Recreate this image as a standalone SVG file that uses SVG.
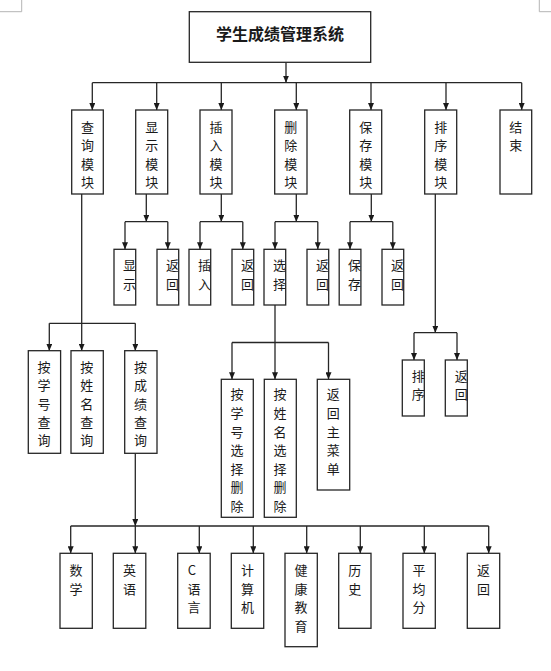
<svg xmlns="http://www.w3.org/2000/svg" width="551" height="671" viewBox="0 0 551 671">
<style>
  rect { fill: #fff; stroke: #262626; stroke-width: 1.3; }
  .c line { stroke: #262626; stroke-width: 1.3; fill: none; }
  .m line { stroke: #b4b4b4; stroke-width: 1; }
  text { font-family: "Noto Sans CJK SC", "Noto Sans", sans-serif; font-size: 13px; fill: #1a1a1a; text-anchor: middle; dominant-baseline: central; }
  .title { font-size: 16px; font-weight: bold; }
</style>
<defs>
  <marker id="ah" markerUnits="userSpaceOnUse" viewBox="0 0 7 6" markerWidth="7" markerHeight="6" refX="7" refY="3" orient="auto">
    <path d="M0,0 L7,3 L0,6 Z" fill="#1a1a1a"/>
  </marker>
</defs>
<rect x="0" y="0" width="551" height="671" style="fill:#fff;stroke:none"/>
<g class="m" id="corner-marks">
  <line x1="21.7" y1="0" x2="21.7" y2="11.7"/>
  <line x1="0" y1="11.7" x2="21.7" y2="11.7"/>
  <line x1="539.3" y1="0" x2="539.3" y2="11.7"/>
  <line x1="539.3" y1="11.7" x2="551" y2="11.7"/>
</g>
<g class="c" id="connectors">
  <line x1="286" y1="62.3" x2="286" y2="82.7" marker-end="url(#ah)"/>
  <line x1="92.3" y1="82.7" x2="521.7" y2="82.7"/>
  <line x1="92.3" y1="82.7" x2="92.3" y2="110" marker-end="url(#ah)"/>
  <line x1="156.7" y1="82.7" x2="156.7" y2="110" marker-end="url(#ah)"/>
  <line x1="221.3" y1="82.7" x2="221.3" y2="110" marker-end="url(#ah)"/>
  <line x1="296.3" y1="82.7" x2="296.3" y2="110" marker-end="url(#ah)"/>
  <line x1="371" y1="82.7" x2="371" y2="110" marker-end="url(#ah)"/>
  <line x1="446" y1="82.7" x2="446" y2="110" marker-end="url(#ah)"/>
  <line x1="521.7" y1="82.7" x2="521.7" y2="110" marker-end="url(#ah)"/>

  <line x1="81.7" y1="194" x2="81.7" y2="350.7" marker-end="url(#ah)"/>
  <line x1="49.3" y1="323.3" x2="135.3" y2="323.3"/>
  <line x1="49.3" y1="323.3" x2="49.3" y2="350.7" marker-end="url(#ah)"/>
  <line x1="135.3" y1="323.3" x2="135.3" y2="350.7" marker-end="url(#ah)"/>

  <line x1="146.3" y1="194" x2="146.3" y2="221.7" marker-end="url(#ah)"/>
  <line x1="125" y1="221.7" x2="167.8" y2="221.7"/>
  <line x1="125" y1="221.7" x2="125" y2="249.3" marker-end="url(#ah)"/>
  <line x1="167.8" y1="221.7" x2="167.8" y2="249.3" marker-end="url(#ah)"/>

  <line x1="221.3" y1="194" x2="221.3" y2="221.7" marker-end="url(#ah)"/>
  <line x1="200" y1="221.7" x2="242.8" y2="221.7"/>
  <line x1="200" y1="221.7" x2="200" y2="249.3" marker-end="url(#ah)"/>
  <line x1="242.8" y1="221.7" x2="242.8" y2="249.3" marker-end="url(#ah)"/>

  <line x1="296.3" y1="194" x2="296.3" y2="221.7" marker-end="url(#ah)"/>
  <line x1="275" y1="221.7" x2="317.8" y2="221.7"/>
  <line x1="275" y1="221.7" x2="275" y2="249.3" marker-end="url(#ah)"/>
  <line x1="317.8" y1="221.7" x2="317.8" y2="249.3" marker-end="url(#ah)"/>

  <line x1="371.3" y1="194" x2="371.3" y2="221.7" marker-end="url(#ah)"/>
  <line x1="350" y1="221.7" x2="392.8" y2="221.7"/>
  <line x1="350" y1="221.7" x2="350" y2="249.3" marker-end="url(#ah)"/>
  <line x1="392.8" y1="221.7" x2="392.8" y2="249.3" marker-end="url(#ah)"/>

  <line x1="275" y1="305" x2="275" y2="379.3" marker-end="url(#ah)"/>
  <line x1="232" y1="342.5" x2="328.5" y2="342.5"/>
  <line x1="232" y1="342.5" x2="232" y2="379.3" marker-end="url(#ah)"/>
  <line x1="328.5" y1="342.5" x2="328.5" y2="379.3" marker-end="url(#ah)"/>

  <line x1="435.3" y1="194" x2="435.3" y2="332.7" marker-end="url(#ah)"/>
  <line x1="414" y1="332.7" x2="457" y2="332.7"/>
  <line x1="414" y1="332.7" x2="414" y2="360" marker-end="url(#ah)"/>
  <line x1="457" y1="332.7" x2="457" y2="360" marker-end="url(#ah)"/>

  <line x1="135.3" y1="453.3" x2="135.3" y2="526" marker-end="url(#ah)"/>
  <line x1="70.7" y1="526" x2="488.7" y2="526"/>
  <line x1="70.7" y1="526" x2="70.7" y2="553.3" marker-end="url(#ah)"/>
  <line x1="135.3" y1="526" x2="135.3" y2="553.3" marker-end="url(#ah)"/>
  <line x1="199.3" y1="526" x2="199.3" y2="553.3" marker-end="url(#ah)"/>
  <line x1="253.3" y1="526" x2="253.3" y2="553.3" marker-end="url(#ah)"/>
  <line x1="306.7" y1="526" x2="306.7" y2="553.3" marker-end="url(#ah)"/>
  <line x1="360.3" y1="526" x2="360.3" y2="553.3" marker-end="url(#ah)"/>
  <line x1="424.3" y1="526" x2="424.3" y2="553.3" marker-end="url(#ah)"/>
  <line x1="488.7" y1="526" x2="488.7" y2="553.3" marker-end="url(#ah)"/>
</g>

<g id="title"><rect x="189.3" y="11.7" width="181.4" height="50.6"/><text class="title" x="280" y="33.3">学生成绩管理系统</text></g>

<g id="mod-query"><rect x="71.7" y="110" width="31.6" height="84"/><text><tspan x="87.5" y="126">查</tspan><tspan x="87.5" y="144.4">询</tspan><tspan x="87.5" y="162.8">模</tspan><tspan x="87.5" y="181.2">块</tspan></text></g>
<g id="mod-show"><rect x="135.7" y="110" width="32" height="84"/><text><tspan x="151.7" y="126">显</tspan><tspan x="151.7" y="144.4">示</tspan><tspan x="151.7" y="162.8">模</tspan><tspan x="151.7" y="181.2">块</tspan></text></g>
<g id="mod-insert"><rect x="200" y="110" width="32" height="84"/><text><tspan x="216" y="126">插</tspan><tspan x="216" y="144.4">入</tspan><tspan x="216" y="162.8">模</tspan><tspan x="216" y="181.2">块</tspan></text></g>
<g id="mod-delete"><rect x="274.7" y="110" width="32.3" height="84"/><text><tspan x="290.8" y="126">删</tspan><tspan x="290.8" y="144.4">除</tspan><tspan x="290.8" y="162.8">模</tspan><tspan x="290.8" y="181.2">块</tspan></text></g>
<g id="mod-save"><rect x="349.7" y="110" width="32" height="84"/><text><tspan x="365.7" y="126">保</tspan><tspan x="365.7" y="144.4">存</tspan><tspan x="365.7" y="162.8">模</tspan><tspan x="365.7" y="181.2">块</tspan></text></g>
<g id="mod-sort"><rect x="424.7" y="110" width="32" height="84"/><text><tspan x="440.7" y="126">排</tspan><tspan x="440.7" y="144.4">序</tspan><tspan x="440.7" y="162.8">模</tspan><tspan x="440.7" y="181.2">块</tspan></text></g>
<g id="mod-end"><rect x="500" y="110" width="31.7" height="84"/><text><tspan x="515.8" y="126">结</tspan><tspan x="515.8" y="144.4">束</tspan></text></g>

<g id="show-display"><text><tspan x="129.4" y="264">显</tspan><tspan x="129.4" y="282.7">示</tspan></text><rect x="114" y="249.3" width="21.7" height="55.7" style="fill:none"/></g>
<g id="show-back"><text><tspan x="172.4" y="264">返</tspan><tspan x="172.4" y="282.7">回</tspan></text><rect x="157" y="249.3" width="21.7" height="55.7" style="fill:none"/></g>
<g id="insert-insert"><text><tspan x="204.4" y="264">插</tspan><tspan x="204.4" y="282.7">入</tspan></text><rect x="189" y="249.3" width="21.7" height="55.7" style="fill:none"/></g>
<g id="insert-back"><text><tspan x="247.4" y="264">返</tspan><tspan x="247.4" y="282.7">回</tspan></text><rect x="232" y="249.3" width="21.7" height="55.7" style="fill:none"/></g>
<g id="delete-select"><text><tspan x="279.4" y="264">选</tspan><tspan x="279.4" y="282.7">择</tspan></text><rect x="264" y="249.3" width="21.7" height="55.7" style="fill:none"/></g>
<g id="delete-back"><text><tspan x="322.4" y="264">返</tspan><tspan x="322.4" y="282.7">回</tspan></text><rect x="307" y="249.3" width="21.7" height="55.7" style="fill:none"/></g>
<g id="save-save"><text><tspan x="354.6" y="264">保</tspan><tspan x="354.6" y="282.7">存</tspan></text><rect x="339.2" y="249.3" width="21.7" height="55.7" style="fill:none"/></g>
<g id="save-back"><text><tspan x="397.4" y="264">返</tspan><tspan x="397.4" y="282.7">回</tspan></text><rect x="382" y="249.3" width="21.7" height="55.7" style="fill:none"/></g>

<g id="query-id"><rect x="28.3" y="350.7" width="32.3" height="102.6"/><text><tspan x="44" y="366">按</tspan><tspan x="44" y="384.4">学</tspan><tspan x="44" y="402.8">号</tspan><tspan x="44" y="421.1">查</tspan><tspan x="44" y="439.4">询</tspan></text></g>
<g id="query-name"><rect x="71" y="350.7" width="32.3" height="102.6"/><text><tspan x="86.8" y="366">按</tspan><tspan x="86.8" y="384.4">姓</tspan><tspan x="86.8" y="402.8">名</tspan><tspan x="86.8" y="421.1">查</tspan><tspan x="86.8" y="439.4">询</tspan></text></g>
<g id="query-score"><rect x="124.7" y="350.7" width="32.3" height="102.6"/><text><tspan x="140.4" y="366">按</tspan><tspan x="140.4" y="384.4">成</tspan><tspan x="140.4" y="402.8">绩</tspan><tspan x="140.4" y="421.1">查</tspan><tspan x="140.4" y="439.4">询</tspan></text></g>

<g id="del-by-id"><rect x="221.3" y="379.3" width="32" height="138"/><text><tspan x="237" y="393.3">按</tspan><tspan x="237" y="411.9">学</tspan><tspan x="237" y="430.5">号</tspan><tspan x="237" y="449.1">选</tspan><tspan x="237" y="467.7">择</tspan><tspan x="237" y="486.3">删</tspan><tspan x="237" y="504.9">除</tspan></text></g>
<g id="del-by-name"><rect x="264.3" y="379.3" width="32" height="138"/><text><tspan x="280.1" y="393.3">按</tspan><tspan x="280.1" y="411.9">姓</tspan><tspan x="280.1" y="430.5">名</tspan><tspan x="280.1" y="449.1">选</tspan><tspan x="280.1" y="467.7">择</tspan><tspan x="280.1" y="486.3">删</tspan><tspan x="280.1" y="504.9">除</tspan></text></g>
<g id="del-menu"><rect x="317.3" y="379.3" width="32.4" height="110.7"/><text><tspan x="333.3" y="393.3">返</tspan><tspan x="333.3" y="411.9">回</tspan><tspan x="333.3" y="430.5">主</tspan><tspan x="333.3" y="449.1">菜</tspan><tspan x="333.3" y="467.7">单</tspan></text></g>

<g id="sort-sort"><text><tspan x="418.3" y="375">排</tspan><tspan x="418.3" y="393.3">序</tspan></text><rect x="402.3" y="360" width="22" height="56" style="fill:none"/></g>
<g id="sort-back"><text><tspan x="461.3" y="375">返</tspan><tspan x="461.3" y="393.3">回</tspan></text><rect x="445.3" y="360" width="22" height="56" style="fill:none"/></g>

<g id="sub-math"><rect x="60" y="553.3" width="32.3" height="75"/><text><tspan x="76.1" y="569">数</tspan><tspan x="76.1" y="587.5">学</tspan></text></g>
<g id="sub-english"><rect x="113.3" y="553.3" width="32.5" height="75"/><text><tspan x="129.5" y="569">英</tspan><tspan x="129.5" y="587.5">语</tspan></text></g>
<g id="sub-c"><rect x="177.7" y="553.3" width="32.5" height="75"/><text><tspan x="192" y="569">C</tspan><tspan x="193.9" y="587.5">语</tspan><tspan x="193.9" y="606">言</tspan></text></g>
<g id="sub-computer"><rect x="231.3" y="553.3" width="32.4" height="75"/><text><tspan x="247.5" y="569">计</tspan><tspan x="247.5" y="587.5">算</tspan><tspan x="247.5" y="606">机</tspan></text></g>
<g id="sub-health"><rect x="285" y="553.3" width="32.3" height="93.4"/><text><tspan x="301.1" y="569">健</tspan><tspan x="301.1" y="587.5">康</tspan><tspan x="301.1" y="606">教</tspan><tspan x="301.1" y="624.5">育</tspan></text></g>
<g id="sub-history"><rect x="338.7" y="553.3" width="32.3" height="75"/><text><tspan x="354.8" y="569">历</tspan><tspan x="354.8" y="587.5">史</tspan></text></g>
<g id="sub-average"><rect x="403" y="553.3" width="32.3" height="75"/><text><tspan x="419.1" y="569">平</tspan><tspan x="419.1" y="587.5">均</tspan><tspan x="419.1" y="606">分</tspan></text></g>
<g id="sub-back"><rect x="467.3" y="553.3" width="32.4" height="75"/><text><tspan x="483.5" y="569">返</tspan><tspan x="483.5" y="587.5">回</tspan></text></g>
</svg>
